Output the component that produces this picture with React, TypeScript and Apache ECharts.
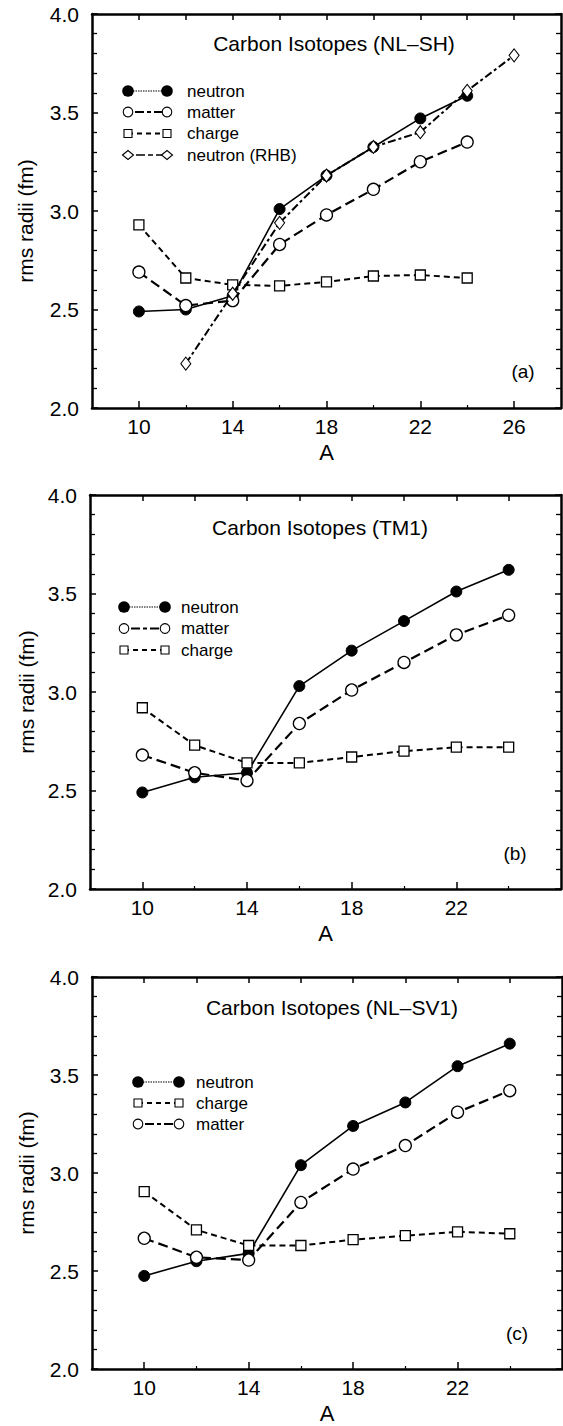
import React, { useEffect, useRef } from "react";
import * as echarts from "echarts";

// ---- data ----
const massNumbers = [10, 12, 14, 16, 18, 20, 22, 24];
const massNumbersRHB = [12, 14, 16, 18, 20, 22, 24, 26];

const nlshNeutron = [2.49, 2.5, 2.57, 3.01, 3.18, 3.325, 3.47, 3.585];
const nlshMatter = [2.69, 2.52, 2.545, 2.83, 2.98, 3.11, 3.25, 3.35];
const nlshCharge = [2.93, 2.66, 2.625, 2.62, 2.64, 2.67, 2.675, 2.66];
const nlshNeutronRHB = [2.225, 2.58, 2.94, 3.18, 3.325, 3.4, 3.61, 3.79];

const tm1Neutron = [2.49, 2.567, 2.59, 3.03, 3.21, 3.36, 3.51, 3.62];
const tm1Matter = [2.68, 2.59, 2.55, 2.84, 3.01, 3.15, 3.29, 3.39];
const tm1Charge = [2.92, 2.73, 2.64, 2.64, 2.67, 2.7, 2.72, 2.72];

const sv1Neutron = [2.475, 2.55, 2.59, 3.04, 3.24, 3.36, 3.545, 3.66];
const sv1Matter = [2.667, 2.57, 2.556, 2.85, 3.02, 3.14, 3.31, 3.42];
const sv1Charge = [2.905, 2.71, 2.63, 2.63, 2.66, 2.68, 2.7, 2.69];

const xMajorA = [10, 14, 18, 22, 26];
const xMinorA = [12, 16, 20, 24];
const xTopA = [10, 12, 14, 16, 18, 20, 22, 24, 26];
const xMajorBC = [10, 14, 18, 22];
const xMinorBC = [12, 16, 20, 24];
const xTopBC = [10, 12, 14, 16, 18, 20, 22, 24];

const titles = [
  "Carbon Isotopes (NL\u2013SH)",
  "Carbon Isotopes (TM1)",
  "Carbon Isotopes (NL\u2013SV1)",
];
const panelLabels = ["(a)", "(b)", "(c)"];

const FONT = '"Liberation Sans", Arial, Helvetica, sans-serif';

type Kind = "neutron" | "matter" | "charge" | "rhb";

const styles: Record<Kind, any> = {
  neutron: {
    symbol: "circle",
    symbolSize: 11,
    itemStyle: { color: "#000", borderColor: "#000", borderWidth: 1 },
    lineStyle: { color: "#000", width: 1.6, type: "solid" },
  },
  matter: {
    symbol: "circle",
    symbolSize: 12,
    itemStyle: { color: "#fff", borderColor: "#000", borderWidth: 1.3 },
    lineStyle: { color: "#000", width: 2.2, type: [10, 5] },
  },
  charge: {
    symbol: "rect",
    symbolSize: 10,
    itemStyle: { color: "#fff", borderColor: "#000", borderWidth: 1.3 },
    lineStyle: { color: "#000", width: 2, type: [6, 4] },
  },
  rhb: {
    symbol: "diamond",
    symbolSize: [10, 13],
    itemStyle: { color: "#fff", borderColor: "#000", borderWidth: 1.1 },
    lineStyle: { color: "#000", width: 2, type: [8, 3, 3, 3] },
  },
};

const legendDash: Record<Kind, any> = {
  neutron: { lineWidth: 1.2, lineDash: [1.5, 1] },
  matter: { lineWidth: 2, lineDash: [4, 3, 9, 3] },
  charge: { lineWidth: 2, lineDash: [5, 4] },
  rhb: { lineWidth: 1.6, lineDash: [5, 3, 9, 3] },
};

const panels = [
  {
    grid: { left: 92, top: 14, width: 469, height: 394 },
    xMax: 28,
    xMajor: xMajorA,
    xMinor: xMinorA,
    xTop: xTopA,
    title: { x: 334, y: 43 },
    label: { x: 523, y: 371 },
    legend: { lx: 128, rx: 167, tx: 187, ys: [91, 112, 133.5, 155] },
    yNameGap: 56,
    yNamePadding: [0, 20, 0, 0],
    series: [
      { kind: "neutron" as Kind, name: "neutron", xs: massNumbers, ys: nlshNeutron },
      { kind: "matter" as Kind, name: "matter", xs: massNumbers, ys: nlshMatter },
      { kind: "charge" as Kind, name: "charge", xs: massNumbers, ys: nlshCharge },
      { kind: "rhb" as Kind, name: "neutron (RHB)", xs: massNumbersRHB, ys: nlshNeutronRHB },
    ],
    legendOrder: [
      { kind: "neutron" as Kind, text: "neutron" },
      { kind: "matter" as Kind, text: "matter" },
      { kind: "charge" as Kind, text: "charge" },
      { kind: "rhb" as Kind, text: "neutron (RHB)" },
    ],
  },
  {
    grid: { left: 90, top: 495, width: 471, height: 394 },
    xMax: 26,
    xMajor: xMajorBC,
    xMinor: xMinorBC,
    xTop: xTopBC,
    title: { x: 320, y: 527 },
    label: { x: 515, y: 853 },
    legend: { lx: 124, rx: 165, tx: 181, ys: [607, 628.5, 650] },
    yNameGap: 53,
    yNamePadding: [0, 0, 0, 0],
    series: [
      { kind: "neutron" as Kind, name: "neutron", xs: massNumbers, ys: tm1Neutron },
      { kind: "matter" as Kind, name: "matter", xs: massNumbers, ys: tm1Matter },
      { kind: "charge" as Kind, name: "charge", xs: massNumbers, ys: tm1Charge },
    ],
    legendOrder: [
      { kind: "neutron" as Kind, text: "neutron" },
      { kind: "matter" as Kind, text: "matter" },
      { kind: "charge" as Kind, text: "charge" },
    ],
  },
  {
    grid: { left: 92, top: 977, width: 470, height: 392 },
    xMax: 26,
    xMajor: xMajorBC,
    xMinor: xMinorBC,
    xTop: xTopBC,
    title: { x: 332, y: 1007 },
    label: { x: 517, y: 1333 },
    legend: { lx: 138, rx: 179, tx: 196, ys: [1082, 1103, 1124] },
    yNameGap: 55,
    yNamePadding: [0, 0, 0, 0],
    series: [
      { kind: "neutron" as Kind, name: "neutron", xs: massNumbers, ys: sv1Neutron },
      { kind: "matter" as Kind, name: "matter", xs: massNumbers, ys: sv1Matter },
      { kind: "charge" as Kind, name: "charge", xs: massNumbers, ys: sv1Charge },
    ],
    legendOrder: [
      { kind: "neutron" as Kind, text: "neutron" },
      { kind: "charge" as Kind, text: "charge" },
      { kind: "matter" as Kind, text: "matter" },
    ],
  },
];

function legendSymbol(kind: Kind, x: number, y: number): any {
  if (kind === "neutron") {
    return { type: "circle", shape: { cx: x, cy: y, r: 5.8 }, style: { fill: "#000" } };
  }
  if (kind === "matter") {
    return {
      type: "circle",
      shape: { cx: x, cy: y, r: 4.8 },
      style: { fill: "#fff", stroke: "#000", lineWidth: 1.1 },
    };
  }
  if (kind === "charge") {
    return {
      type: "rect",
      shape: { x: x - 4, y: y - 4, width: 8, height: 8 },
      style: { fill: "#fff", stroke: "#000", lineWidth: 1.1 },
    };
  }
  return {
    type: "polygon",
    shape: { points: [[x - 5.5, y], [x, y - 4.5], [x + 5.5, y], [x, y + 4.5]] },
    style: { fill: "#fff", stroke: "#000", lineWidth: 1.1 },
  };
}

export default function App() {
  const ref = useRef<HTMLDivElement>(null);

  useEffect(() => {
    if (!ref.current) return;
    const chart = echarts.init(ref.current, undefined, { renderer: "svg" });

    const grids: any[] = [];
    const xAxes: any[] = [];
    const yAxes: any[] = [];
    const series: any[] = [];
    const graphics: any[] = [];

    panels.forEach((p, i) => {
      grids.push({ ...p.grid, containLabel: false });
      const mainX = xAxes.length;
      xAxes.push({
        gridIndex: i,
        type: "value",
        position: "bottom",
        min: 8,
        max: p.xMax,
        axisLine: { show: true, onZero: false, lineStyle: { color: "#000", width: 2.5 } },
        axisTick: { show: true, inside: true, length: 7, customValues: p.xMajor, lineStyle: { color: "#000", width: 1.5 } },
        axisLabel: { show: true, customValues: p.xMajor, margin: 8, fontSize: 21, color: "#000", fontFamily: FONT },
        splitLine: { show: false },
        name: "A",
        nameLocation: "middle",
        nameGap: 33,
        nameTextStyle: { fontSize: 22, color: "#000", fontFamily: FONT },
      });
      xAxes.push({
        gridIndex: i,
        type: "value",
        position: "bottom",
        min: 8,
        max: p.xMax,
        axisLine: { show: false },
        axisTick: { show: true, inside: true, length: 3, customValues: p.xMinor, lineStyle: { color: "#000", width: 1.2 } },
        axisLabel: { show: false },
        splitLine: { show: false },
      });
      xAxes.push({
        gridIndex: i,
        type: "value",
        position: "top",
        min: 8,
        max: p.xMax,
        axisLine: { show: true, onZero: false, lineStyle: { color: "#000", width: 2.5 } },
        axisTick: { show: true, inside: true, length: 6, customValues: p.xTop, lineStyle: { color: "#000", width: 1.5 } },
        axisLabel: { show: false },
        splitLine: { show: false },
      });
      const mainY = yAxes.length;
      yAxes.push({
        gridIndex: i,
        type: "value",
        position: "left",
        min: 2,
        max: 4,
        interval: 0.5,
        axisLine: { show: true, onZero: false, lineStyle: { color: "#000", width: 2.5 } },
        axisTick: { show: true, inside: true, length: 6, lineStyle: { color: "#000", width: 1.5 } },
        minorTick: { show: true, splitNumber: 5, length: 5, lineStyle: { color: "#000", width: 1.3 } },
        axisLabel: {
          show: true,
          margin: 13,
          fontSize: 21,
          color: "#000",
          fontFamily: FONT,
          formatter: (v: number) => v.toFixed(1),
        },
        splitLine: { show: false },
        minorSplitLine: { show: false },
        name: "rms radii (fm)",
        nameLocation: "middle",
        nameGap: p.yNameGap,
        nameTextStyle: { fontSize: 21, color: "#000", fontFamily: FONT, padding: p.yNamePadding },
      });
      yAxes.push({
        gridIndex: i,
        type: "value",
        position: "right",
        min: 2,
        max: 4,
        interval: 0.5,
        axisLine: { show: true, onZero: false, lineStyle: { color: "#000", width: 2.5 } },
        axisTick: { show: true, inside: true, length: 6, lineStyle: { color: "#000", width: 1.5 } },
        minorTick: { show: true, splitNumber: 5, length: 5, lineStyle: { color: "#000", width: 1.3 } },
        axisLabel: { show: false },
        splitLine: { show: false },
        minorSplitLine: { show: false },
      });

      p.series.forEach((s, k) => {
        const st = styles[s.kind];
        series.push({
          type: "line",
          name: s.name,
          xAxisIndex: mainX,
          yAxisIndex: mainY,
          data: s.xs.map((x, j) => [x, s.ys[j]]),
          symbol: st.symbol,
          symbolSize: st.symbolSize,
          showAllSymbol: true,
          itemStyle: st.itemStyle,
          lineStyle: st.lineStyle,
          silent: true,
          z: 2 + k,
          emphasis: { disabled: true },
        });
      });

      graphics.push({
        type: "text",
        x: p.title.x,
        y: p.title.y,
        style: { text: titles[i], fontSize: 21, fontFamily: FONT, fill: "#000", align: "center", verticalAlign: "middle" },
      });
      graphics.push({
        type: "text",
        x: p.label.x,
        y: p.label.y,
        style: { text: panelLabels[i], fontSize: 19, fontFamily: FONT, fill: "#000", align: "center", verticalAlign: "middle" },
      });

      p.legendOrder.forEach((row, r) => {
        const y = p.legend.ys[r];
        const d = legendDash[row.kind];
        graphics.push({
          type: "line",
          shape: { x1: p.legend.lx, y1: y, x2: p.legend.rx, y2: y },
          style: { stroke: "#000", lineWidth: d.lineWidth, lineDash: d.lineDash },
        });
        graphics.push(legendSymbol(row.kind, p.legend.lx, y));
        graphics.push(legendSymbol(row.kind, p.legend.rx, y));
        graphics.push({
          type: "text",
          x: p.legend.tx,
          y: y,
          style: { text: row.text, fontSize: 17, fontFamily: FONT, fill: "#000", align: "left", verticalAlign: "middle" },
        });
      });
    });

    chart.setOption({
      animation: false,
      backgroundColor: "#fff",
      textStyle: { fontFamily: FONT },
      grid: grids,
      xAxis: xAxes,
      yAxis: yAxes,
      series,
      graphic: graphics,
    });

    return () => chart.dispose();
  }, []);

  return (
    <div
      ref={ref}
      style={{ position: "absolute", left: 0, top: 0, width: 563, height: 1426, background: "#fff" }}
    />
  );
}
